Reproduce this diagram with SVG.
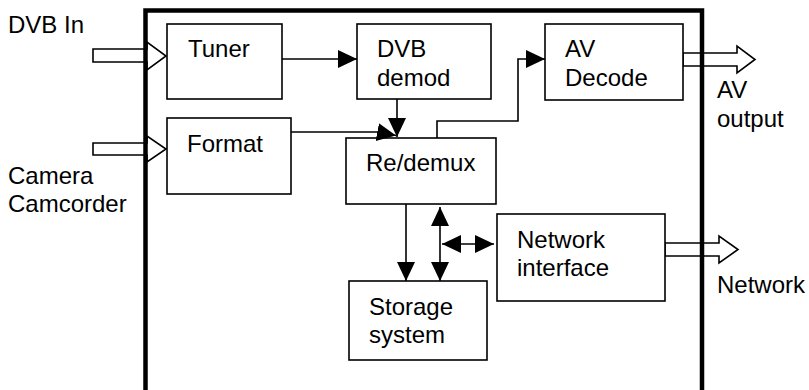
<svg xmlns="http://www.w3.org/2000/svg" width="809" height="390" viewBox="0 0 809 390">
  <defs>
    <style>
      text { font-family: "Liberation Sans", Arial, sans-serif; font-size: 24px; fill: #000; }
      .box { fill: #fff; stroke: #000; stroke-width: 1.6; }
      .wire { fill: none; stroke: #000; stroke-width: 1.6; }
      .port { fill: #fff; stroke: #000; stroke-width: 1.6; stroke-linejoin: miter; }
      .frame { fill: none; stroke: #000; stroke-width: 4.5; }
    </style>
    <marker id="head" markerUnits="userSpaceOnUse" markerWidth="20" markerHeight="20" refX="19" refY="9" orient="auto-start-reverse">
      <path d="M0,0 L19,9 L0,18 Z" fill="#000"/>
    </marker>
  </defs>

  <rect width="809" height="390" fill="#fff"/>

  <!-- external ports (hollow arrows) -->
  <g id="ports">
    <polygon class="port" points="93,49 147,49 147,42 166,56 147,70 147,62 93,62"/>
    <polygon class="port" points="93,143 147,143 147,136 166,149 147,162 147,155 93,155"/>
    <polygon class="port" points="683,53 737,53 737,46 755,59.5 737,73 737,66 683,66"/>
    <polygon class="port" points="665,243 719,243 719,236 738,249.5 719,263 719,256 665,256"/>
  </g>

  <!-- enclosure -->
  <path class="frame" d="M145.5,390 V10.5 H702 V390"/>

  <!-- external labels -->
  <g id="labels">
    <text x="8" y="33">DVB In</text>
    <text x="8" y="184">Camera</text>
    <text x="8" y="212">Camcorder</text>
    <text x="717" y="98">AV</text>
    <text x="717" y="127">output</text>
    <text x="717" y="293">Network</text>
  </g>

  <g id="tuner">
    <rect class="box" x="167" y="24" width="115" height="75"/>
    <text x="188" y="57">Tuner</text>
  </g>
  <g id="format">
    <rect class="box" x="167" y="118" width="124" height="76"/>
    <text x="187" y="152">Format</text>
  </g>
  <g id="dvb-demod">
    <rect class="box" x="357" y="24" width="134" height="75"/>
    <text x="377" y="57">DVB</text>
    <text x="377" y="86">demod</text>
  </g>
  <g id="av-decode">
    <rect class="box" x="545" y="24" width="138" height="76"/>
    <text x="565" y="57">AV</text>
    <text x="565" y="86">Decode</text>
  </g>
  <g id="redemux">
    <rect class="box" x="346" y="138" width="150" height="66"/>
    <text x="366" y="171">Re/demux</text>
  </g>
  <g id="network-interface">
    <rect class="box" x="497" y="214" width="168" height="87"/>
    <text x="517" y="248">Network</text>
    <text x="517" y="276">interface</text>
  </g>
  <g id="storage">
    <rect class="box" x="349" y="281" width="138" height="79"/>
    <text x="369" y="315">Storage</text>
    <text x="369" y="343">system</text>
  </g>

  <!-- connectors -->
  <g id="connectors">
    <path class="wire" d="M282,59 H357" marker-end="url(#head)"/>
    <path class="wire" d="M291,132 H377 L396,135.5" marker-end="url(#head)"/>
    <path class="wire" d="M397,99 V137" marker-end="url(#head)"/>
    <path class="wire" d="M437,138 V121 H518 V59 H545" marker-end="url(#head)"/>
    <path class="wire" d="M406,204 V281" marker-end="url(#head)"/>
    <path class="wire" d="M440,207 V281" marker-start="url(#head)" marker-end="url(#head)"/>
    <path class="wire" d="M442,244 H494" marker-start="url(#head)" marker-end="url(#head)"/>
  </g>
</svg>
